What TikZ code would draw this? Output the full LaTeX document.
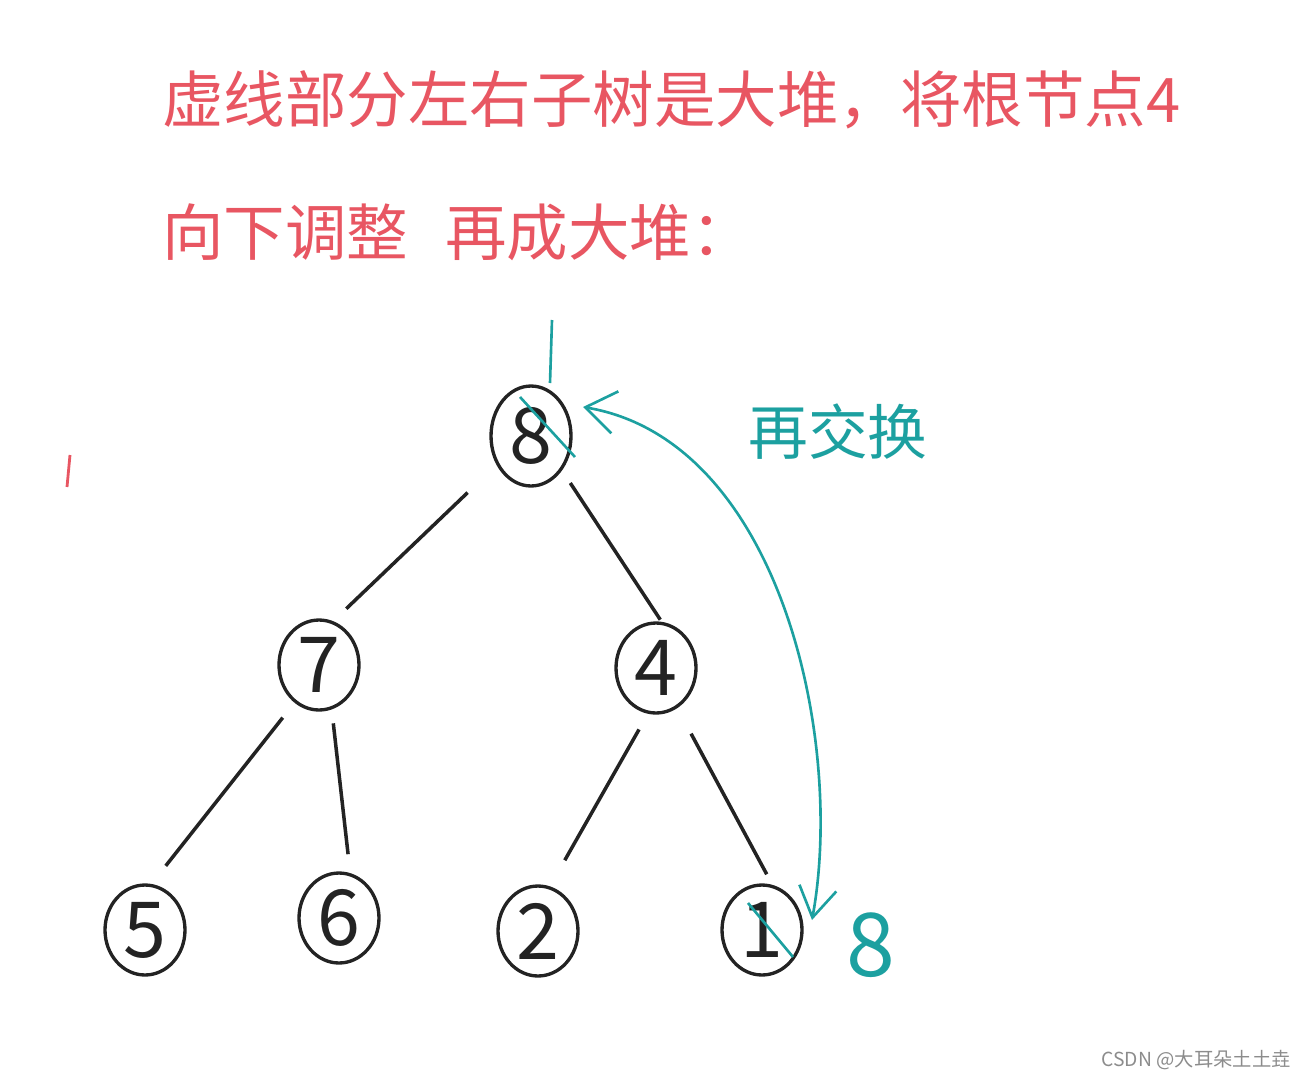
\documentclass[tikz,border=0pt]{standalone}
\usepackage{fontspec}
\setmainfont{Noto Sans CJK SC}
\usetikzlibrary{arrows.meta,shapes.geometric}
\definecolor{penred}{RGB}{232,86,98}
\definecolor{penteal}{RGB}{28,160,160}
\definecolor{penblack}{RGB}{35,35,35}
\definecolor{markgray}{RGB}{140,140,140}
\begin{document}
\begin{tikzpicture}[x=0.02cm,y=-0.02cm,
    heapnode/.style={draw=penblack, ellipse, line width=1.9pt, minimum width=1.6cm,
      minimum height=1.8cm, inner sep=0pt, text=penblack, font=\fontsize{44}{44}\selectfont},
    edge/.style={penblack, line width=2pt},
    swapline/.style={penteal, line width=1.5pt},
    note/.style={text=penred, inner sep=0pt, anchor=west, font=\fontsize{35}{35}\selectfont}]
    \useasboundingbox (0,0) rectangle (1305,1079);

    % red notes above
    \node[note] (line1) at (162,100) {虚线部分左右子树是大堆，将根节点4};
    \node[note] (line2) at (162,232) {向下调整\hspace{0.6em}再成大堆：};
    \draw[penred, line width=1.6pt] (70,455) -- (67,487);

    % Draw the heap
    \node[heapnode, minimum height=2cm] (n8) at (531,436) {8};
    \node[heapnode] (n7) at (319,665) {7};
    \node[heapnode] (n4) at (656,668) {4};
    \node[heapnode] (n5) at (145,930) {5};
    \node[heapnode] (n6) at (339,918) {6};
    \node[heapnode] (n2) at (538,931) {2};
    \node[heapnode] (n1) at (762,930) {1};

    % Draw the edges
    \draw[edge, shorten <=0.8cm, shorten >=0.36cm] (n8.220) -- (n7.72);
    \draw[edge, shorten <=0.3cm, shorten >=0.05cm] (n8.-48) -- (n4.83);
    \draw[edge, shorten <=0.38cm, shorten >=0.46cm] (n7.-123) -- (n5.82);
    \draw[edge, shorten <=0.28cm, shorten >=0.38cm] (n7.-74) -- (n6.76);
    \draw[edge, shorten <=0.36cm, shorten >=0.6cm] (n4.-100) -- (n2.75);
    \draw[edge, shorten <=0.58cm, shorten >=0.24cm] (n4.-62) -- (n1.77);

    % swap of root and last leaf
    \draw[swapline] (552,320) -- (550,383);
    \draw[swapline] (520,397) -- (575,457);
    \draw[swapline] (748,903) -- (793,957);
    \draw[swapline, {Straight Barb[length=0.6cm,width=0.85cm]}-{Straight Barb[length=0.6cm,width=0.75cm]}]
      (583,407) .. controls (780,440) and (845,740) .. (812,920);
    \node[text=penteal, font=\fontsize{34}{34}\selectfont] (swaptext) at (838,432) {再交换};
    \node[text=penteal, font=\fontsize{50}{50}\selectfont] (eight) at (871,945) {8};

    % watermark
    \node[text=markgray, anchor=east, inner sep=0pt, font=\fontsize{11}{11}\selectfont] (mark) at (1291,1060) {CSDN @大耳朵土土垚};
\end{tikzpicture}
\end{document}
